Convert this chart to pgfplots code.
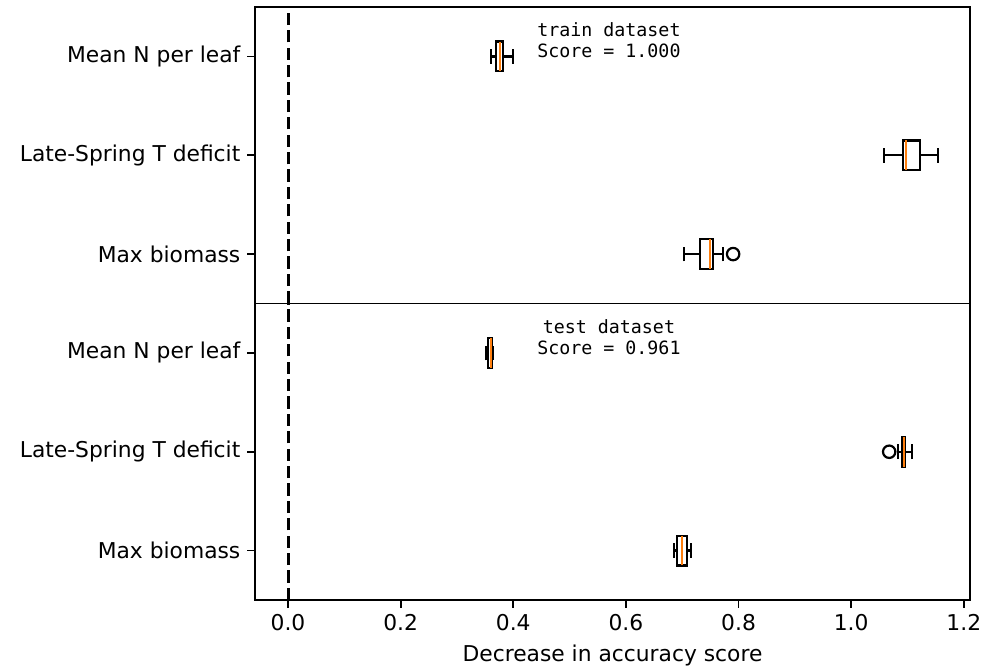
\documentclass[border=0pt]{standalone}
\usepackage{pgfplots}
\pgfplotsset{compat=1.18}
\usepgfplotslibrary{statistics}
\usepackage{fontspec}
\setmainfont{DejaVu Sans}
\newfontfamily\monofont{DejaVu Sans Mono}
\definecolor{mplorange}{HTML}{FF7F0E}
\pgfplotsset{
  common/.style={
    scale only axis,
    width=357.5pt, height=148.25pt,
    xmin=-0.0586, xmax=1.211,
    ymin=0.5, ymax=3.5,
    ytick={1,2,3},
    yticklabels={Max biomass, Late-Spring T deficit, Mean N per leaf},
    tick align=outside,
    major tick length=3.8pt,
    axis line style={line width=0.87pt},
    every tick/.style={black, line width=0.87pt},
    xtick={0,0.2,0.4,0.6,0.8,1.0,1.2},
    xticklabel style={/pgf/number format/fixed, /pgf/number format/fixed zerofill, /pgf/number format/precision=1},
    /pgf/number format/assume math mode=true,
    tick label style={font=\fontsize{10.9}{13}\selectfont},
    label style={font=\fontsize{10.9}{13}\selectfont},
    ytick pos=left,
    boxplot/box extend=0.3,
    boxplot/whisker extend=0.15,
    boxplot/every median/.style={draw=mplorange, line width=1.1pt},
  },
  bp/.style={black, solid, line width=1.1pt, mark=o, mark size=3.1pt, mark options={black, solid, line width=1.1pt}},
}
\begin{document}
\begin{tikzpicture}
% bottom axis (test)
\begin{axis}[common, at={(0,0)}, anchor=south west, xtick pos=bottom,
  xlabel={Decrease in accuracy score}]
\addplot[black, line width=1.5pt, dash pattern=on 6.1pt off 2.6pt] coordinates {(0,0.5) (0,3.5)};
\addplot[bp, boxplot prepared={draw position=3, lower whisker=0.3517, lower quartile=0.3552, median=0.3606, upper quartile=0.3623, upper whisker=0.364}] coordinates {};
\addplot[bp, boxplot prepared={draw position=2, lower whisker=1.0835, lower quartile=1.0906, median=1.0933, upper quartile=1.0959, upper whisker=1.1083}] coordinates {(0,1.0675)};
\addplot[bp, boxplot prepared={draw position=1, lower whisker=0.6856, lower quartile=0.6909, median=0.6998, upper quartile=0.7087, upper whisker=0.7158}] coordinates {};
\node[anchor=north, align=center, font=\monofont\fontsize{9.15}{10.5}\selectfont, inner sep=0pt] at (rel axis cs:0.495,0.947) {test dataset\\Score = 0.961};
\end{axis}
% top axis (train)
\begin{axis}[common, at={(0,148.25pt)}, anchor=south west, xtick=\empty, xticklabels={}]
\addplot[black, line width=1.5pt, dash pattern=on 6.1pt off 2.6pt] coordinates {(0,0.5) (0,3.5)};
\addplot[bp, boxplot prepared={draw position=3, lower whisker=0.3606, lower quartile=0.369, median=0.3766, upper quartile=0.382, upper whisker=0.3996}] coordinates {};
\addplot[bp, boxplot prepared={draw position=2, lower whisker=1.0586, lower quartile=1.0924, median=1.0977, upper quartile=1.1226, upper whisker=1.1545}] coordinates {};
\addplot[bp, boxplot prepared={draw position=1, lower whisker=0.7034, lower quartile=0.7318, median=0.7496, upper quartile=0.7549, upper whisker=0.7726}] coordinates {(0,0.7904)};
\node[anchor=north, align=center, font=\monofont\fontsize{9.15}{10.5}\selectfont, inner sep=0pt] at (rel axis cs:0.495,0.95) {train dataset\\Score = 1.000};
\end{axis}
\pgfresetboundingbox
\path[use as bounding box] (-127.5pt,-34pt) rectangle (364pt,300pt);
\end{tikzpicture}
\end{document}
